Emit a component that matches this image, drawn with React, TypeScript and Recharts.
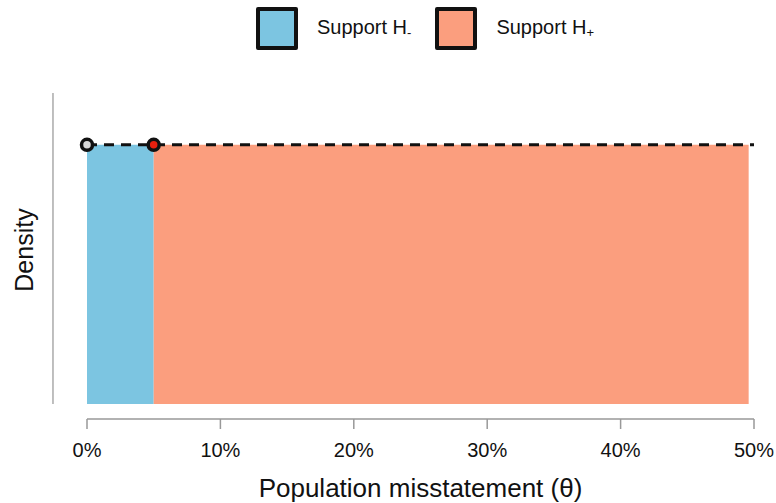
import React from 'react';
import { ComposedChart, Area, Line, Scatter, XAxis, YAxis, Legend, ReferenceLine } from 'recharts';

// theta in percent, uniform prior density
const thetaPoints = [0, 5, 49.6, 50];
const supportMinus = [1, 1, null, null];
const supportPlus = [null, 1, 1, null];
const priorDensity = [1, 1, null, 1];
const xTicks = [0, 10, 20, 30, 40, 50];
const nullPoint = [{ theta: 0, density: 1 }];
const altPoint = [{ theta: 5, density: 1 }];

const data = thetaPoints.map((theta, i) => ({
    theta,
    minus: supportMinus[i],
    plus: supportPlus[i],
    prior: priorDensity[i],
}));

const FONT = '"Liberation Sans", Arial, Helvetica, sans-serif';
const BLUE = '#7cc5e1';
const SALMON = '#fb9e7e';

const LegendBox: React.FC<{ color: string }> = ({ color }) => (
    <div style={{ width: 34, height: 35, background: color, border: '4px solid #111', borderRadius: 2 }} />
);

const renderLegend = () => (
    <div style={{ height: 93, display: 'flex', alignItems: 'flex-start', paddingLeft: 256, paddingTop: 7, boxSizing: 'border-box', fontFamily: FONT, fontSize: 20, color: '#111' }}>
        <LegendBox color={BLUE} />
        <span style={{ marginLeft: 19, marginTop: 9, marginRight: 24 }}>
            Support H<sub style={{ fontSize: 13, verticalAlign: -3 }}>-</sub>
        </span>
        <LegendBox color={SALMON} />
        <span style={{ marginLeft: 19, marginTop: 9 }}>
            Support H<sub style={{ fontSize: 13, verticalAlign: -3 }}>+</sub>
        </span>
    </div>
);

const dotShape = (fill: string) => (props: any) => (
    <circle cx={props.cx} cy={props.cy} r={5.5} fill={fill} stroke="#111" strokeWidth={3.5} />
);

const DensityLabel = (props: any) => {
    const vb = props.viewBox || { x: 0, y: 0, height: 0 };
    return (
        <text
            x={vb.x + 33}
            y={250}
            transform={`rotate(-90, ${vb.x + 33}, 250)`}
            textAnchor="middle"
            fontFamily={FONT}
            fontSize={25}
            fill="#111"
        >
            Density
        </text>
    );
};

export default function App() {
    return (
        <div style={{ position: 'absolute', left: 0, top: 0, background: '#fff' }}>
            <ComposedChart width={776} height={503} data={data} margin={{ top: 0, right: 22, left: 0, bottom: 0 }}>
                <Legend verticalAlign="top" align="left" content={renderLegend} />
                <XAxis
                    dataKey="theta"
                    type="number"
                    domain={[0, 50]}
                    ticks={xTicks}
                    tickFormatter={(v) => `${v}%`}
                    tickSize={10}
                    tickMargin={14}
                    height={84}
                    stroke="#999"
                    strokeWidth={1.5}
                    tick={{ fill: '#111', fontSize: 20, fontFamily: FONT }}
                    label={{ value: 'Population misstatement (θ)', position: 'insideBottom', offset: 6, fill: '#111', fontSize: 26, fontFamily: FONT }}
                />
                <YAxis
                    type="number"
                    domain={[0, 1.2]}
                    width={87}
                    padding={{ top: 0, bottom: 15 }}
                    axisLine={false}
                    tickLine={false}
                    tick={false}
                    label={<DensityLabel />}
                />
                <ReferenceLine
                    segment={[{ x: -2.55, y: 0 }, { x: -2.55, y: 1.2 }]}
                    ifOverflow="visible"
                    stroke="#aaa"
                    strokeWidth={1.5}
                />
                <Area dataKey="minus" type="linear" fill={BLUE} fillOpacity={1} stroke="none" isAnimationActive={false} activeDot={false} />
                <Area dataKey="plus" type="linear" fill={SALMON} fillOpacity={1} stroke="none" isAnimationActive={false} activeDot={false} />
                <Line dataKey="prior" type="linear" stroke="#111" strokeWidth={3} strokeDasharray="10 7" dot={false} activeDot={false} connectNulls isAnimationActive={false} />
                <Scatter data={nullPoint} dataKey="density" shape={dotShape('#d9d9d9')} isAnimationActive={false} />
                <Scatter data={altPoint} dataKey="density" shape={dotShape('#e8200f')} isAnimationActive={false} />
            </ComposedChart>
        </div>
    );
}
